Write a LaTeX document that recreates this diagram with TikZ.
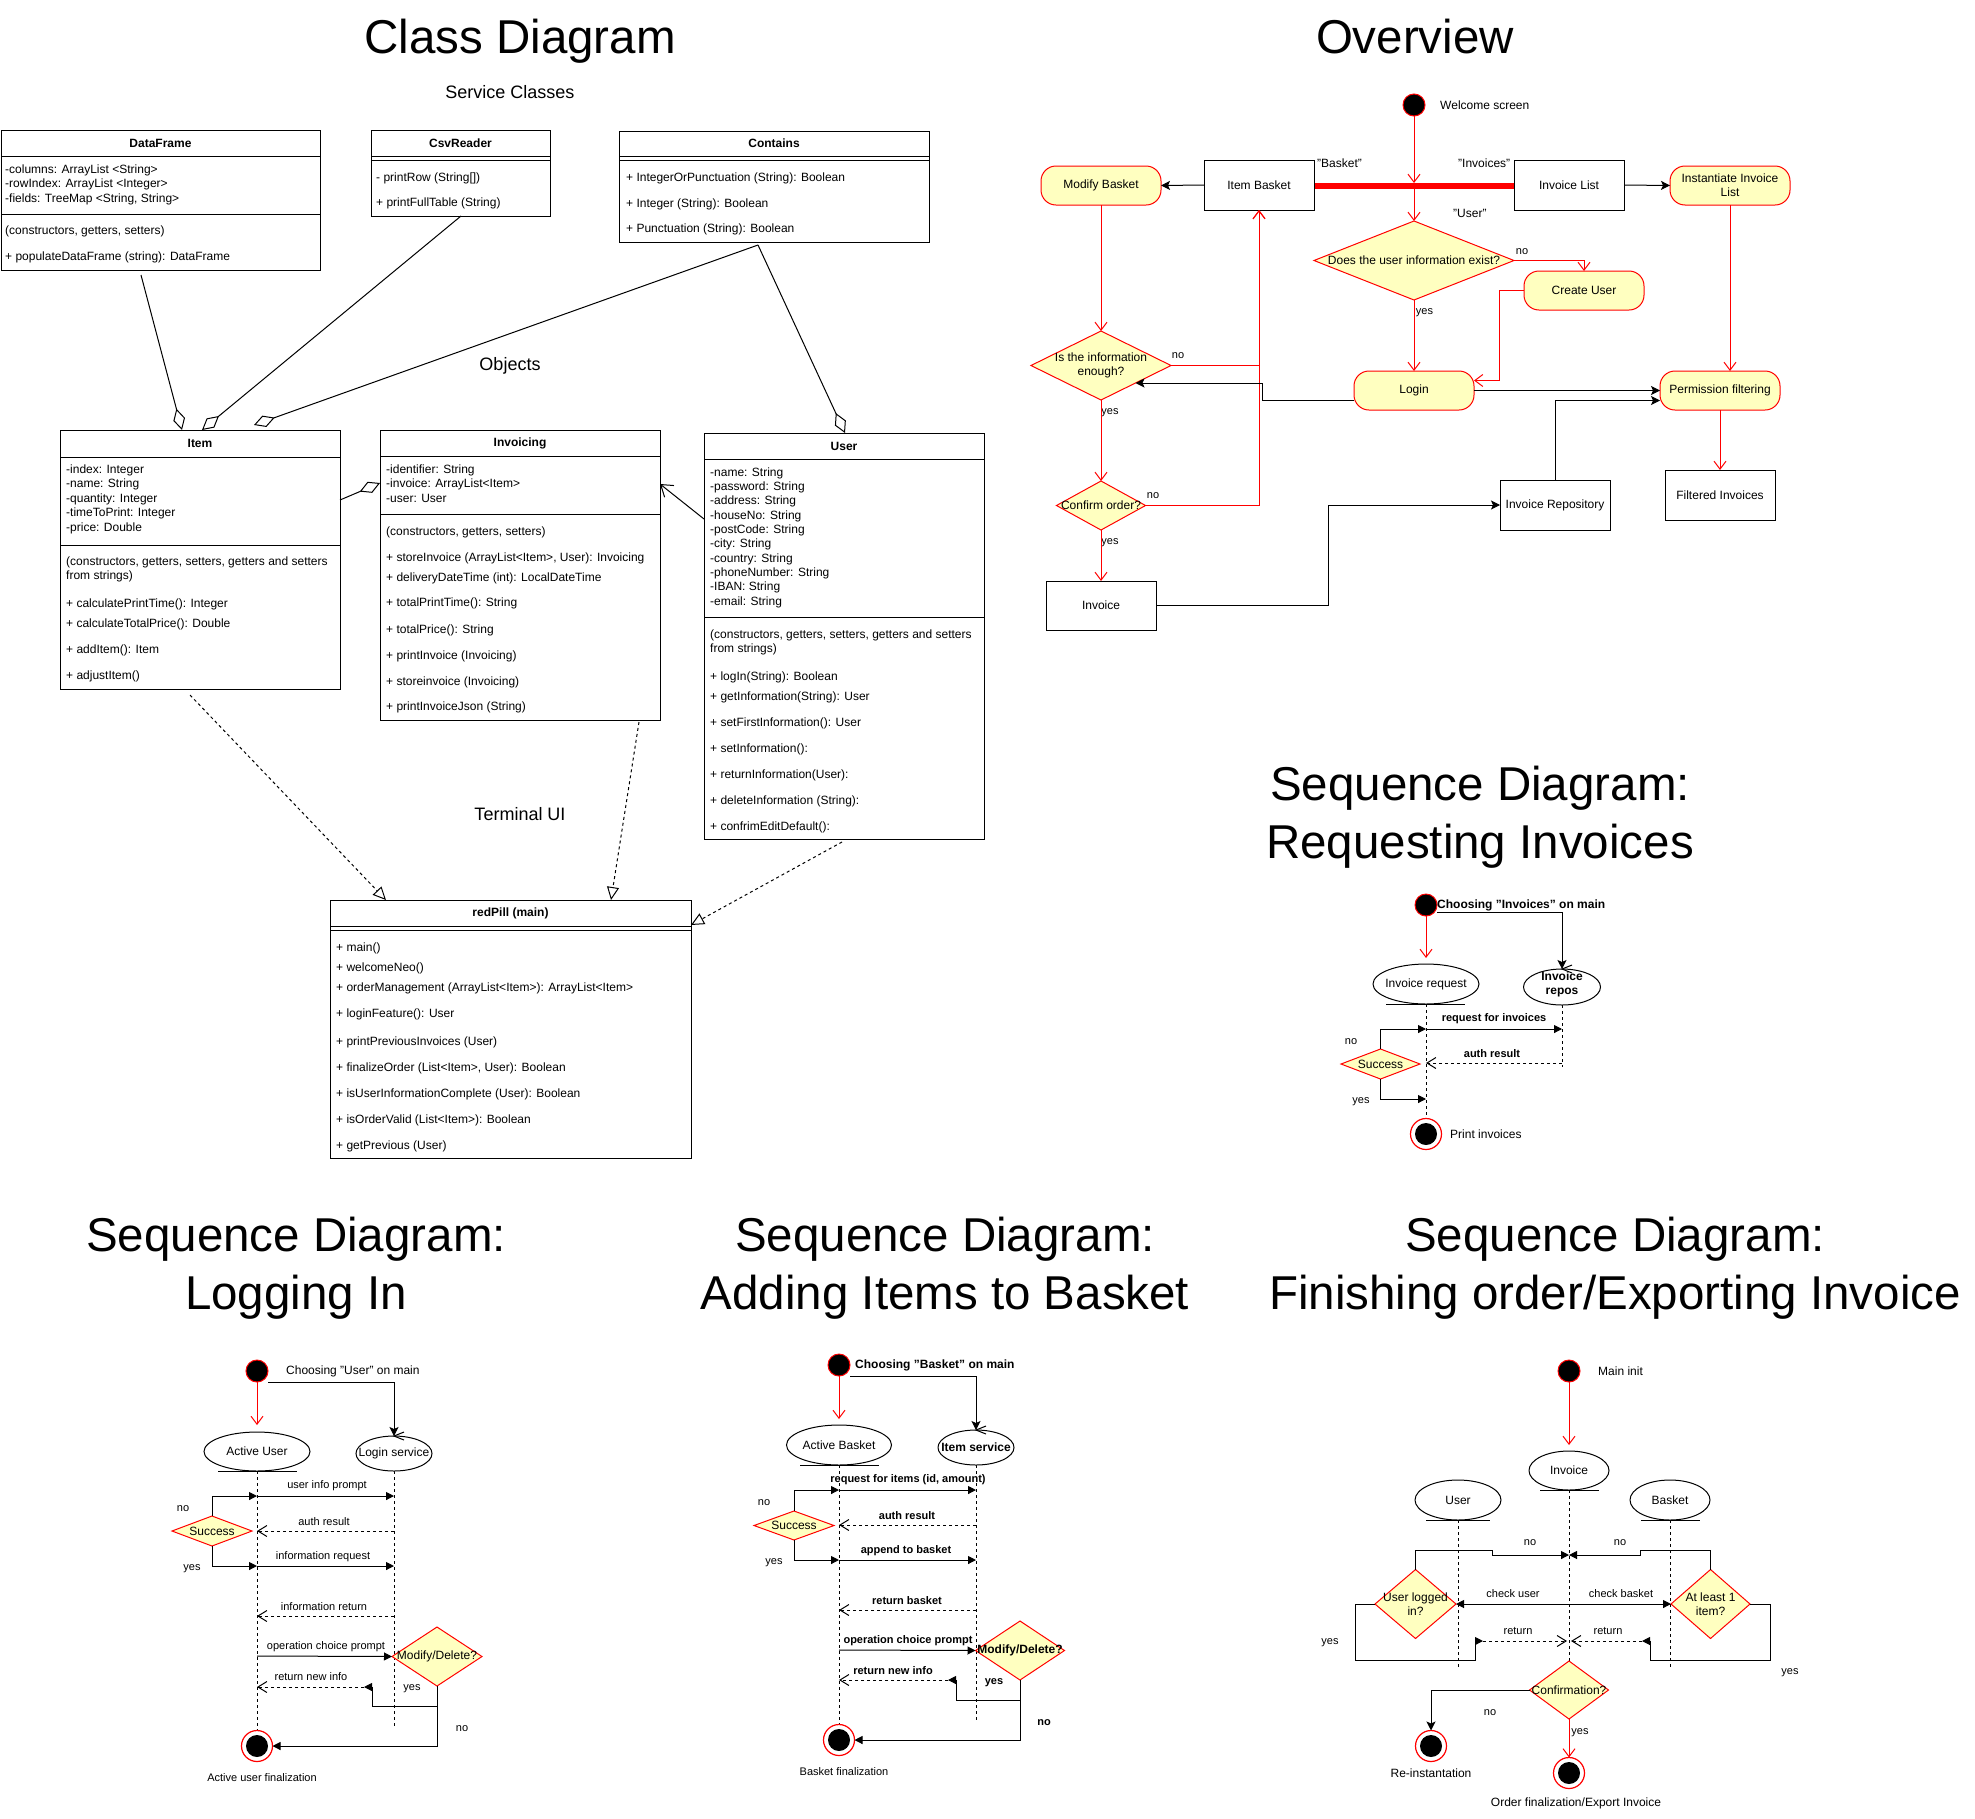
\documentclass[tikz,border=0pt]{standalone}
\usepackage{fontspec}
\setmainfont{Liberation Sans}
\usetikzlibrary{arrows.meta,shapes.geometric}
\definecolor{actfill}{HTML}{FFFFC0}
\definecolor{ared}{HTML}{FF0000}
\tikzset{
  lw/.style={line width=1pt},
  f11/.style={font=\fontsize{11}{13}\selectfont, inner sep=0pt},
  f11b/.style={font=\fontsize{11}{13}\selectfont\bfseries, inner sep=0pt},
  f12/.style={font=\fontsize{12}{14}\selectfont, inner sep=0pt},
  f12b/.style={font=\fontsize{12}{14}\selectfont\bfseries, inner sep=0pt},
  f18/.style={font=\fontsize{18}{21}\selectfont, inner sep=0pt},
  ttl/.style={font=\fontsize{47.5}{57}\selectfont, anchor=base, inner sep=0pt},
  cls/.style={draw, line width=1pt, anchor=north west, inner sep=0pt, outer sep=0pt, fill=white},
  mem/.style={f12, anchor=west, text height=9pt, text depth=3pt},
  rbox/.style={draw, line width=1pt, inner sep=0pt, outer sep=0pt, fill=white, f12},
  act/.style={draw=ared, fill=actfill, rounded corners=15pt, line width=1pt, inner sep=0pt, outer sep=0pt, f12, align=center},
  dec/.style={diamond, draw=ared, fill=actfill, line width=1pt, inner sep=0pt, outer sep=0pt},
  ell/.style={ellipse, draw, line width=1pt, fill=white, inner sep=0pt, outer sep=0pt},
  startc/.style={circle, fill=black, draw=ared, line width=1pt, minimum size=22pt, inner sep=0pt, outer sep=0pt},
  endo/.style={circle, draw=ared, fill=white, line width=1.2pt, minimum size=31pt, inner sep=0pt, outer sep=0pt},
  endi/.style={circle, fill=black, minimum size=22pt, inner sep=0pt},
  ovr/.style={draw=ared, line width=1pt, -{Straight Barb[length=8pt,width=12pt]}},
  blk/.style={draw=black, line width=1pt, -{Stealth[length=9pt,width=9pt,inset=2pt]}},
  msg/.style={draw=black, line width=1pt, -{Triangle[length=8pt,width=8pt]}},
  retn/.style={draw=black, line width=1pt, dash pattern=on 3pt off 3pt, -{Straight Barb[length=9pt,width=11pt]}},
  life/.style={draw=black, line width=1pt, dash pattern=on 3pt off 3pt},
  agg/.style={line width=1pt, -{Diamond[open,length=22pt,width=12pt]}},
  real/.style={line width=1pt, dash pattern=on 3pt off 3pt, -{Triangle[open,length=13pt,width=12pt]}},
  assoc/.style={line width=1pt, -{Straight Barb[length=11pt,width=15pt]}},
}
\begin{document}
\begin{tikzpicture}[x=1pt,y=-1pt]
\fill[white] (0,0) rectangle (1975,1818);
\useasboundingbox (0,0) rectangle (1975,1818);

% ================= CLASS DIAGRAM =================
\node[ttl] (tcls) at (520,53) {Class Diagram};
\node[f18, anchor=base] (tsvc) at (510,98) {Service Classes};
\node[f18, anchor=base] (tobj) at (510,370) {Objects};
\node[f18, anchor=base] (tterm) at (520,820) {Terminal UI};

% DataFrame
\node[cls, minimum width=319pt, minimum height=140pt] (df) at (1,130) {};
\draw[lw] (1,156) -- (320,156);
\draw[lw] (1,214) -- (320,214);
\node[f12b] (dfh) at (160.5,143) {DataFrame};
\node[mem] (dfa1) at (5,170) {-columns: ArrayList <String>};
\node[mem] (dfa2) at (5,184.5) {-rowIndex: ArrayList <Integer>};
\node[mem] (dfa3) at (5,199) {-fields: TreeMap <String, String>};
\node[mem] (dfm1) at (5,231) {(constructors, getters, setters)};
\node[mem] (dfm2) at (5,257) {+ populateDataFrame (string): DataFrame};

% CsvReader
\node[cls, minimum width=179pt, minimum height=86pt] (csv) at (371,130) {};
\draw[lw] (371,156) -- (550,156);
\draw[lw] (371,160) -- (550,160);
\node[f12b] (csvh) at (460.5,143) {CsvReader};
\node[mem] (csvm1) at (376,178) {- printRow (String[])};
\node[mem] (csvm2) at (376,203) {+ printFullTable (String)};

% Contains
\node[cls, minimum width=310pt, minimum height=111pt] (con) at (619,131) {};
\draw[lw] (619,156) -- (929,156);
\draw[lw] (619,160) -- (929,160);
\node[f12b] (conh) at (774,143.5) {Contains};
\node[mem] (conm1) at (626,178) {+ IntegerOrPunctuation (String): Boolean};
\node[mem] (conm2) at (626,204) {+ Integer (String): Boolean};
\node[mem] (conm3) at (626,229) {+ Punctuation (String): Boolean};

% Item
\node[cls, minimum width=280pt, minimum height=259pt] (item) at (60,430) {};
\draw[lw] (60,457) -- (340,457);
\draw[lw] (60,545) -- (340,545);
\node[f12b] (itemh) at (200,443.5) {Item};
\node[mem] (ita1) at (66,470) {-index: Integer};
\node[mem] (ita2) at (66,484.5) {-name: String};
\node[mem] (ita3) at (66,499) {-quantity: Integer};
\node[mem] (ita4) at (66,513.5) {-timeToPrint: Integer};
\node[mem] (ita5) at (66,528) {-price: Double};
\node[mem] (itm1) at (66,562) {(constructors, getters, setters, getters and setters};
\node[mem] (itm2) at (66,576) {from strings)};
\node[mem] (itm3) at (66,604) {+ calculatePrintTime(): Integer};
\node[mem] (itm4) at (66,624) {+ calculateTotalPrice(): Double};
\node[mem] (itm5) at (66,650) {+ addItem(): Item};
\node[mem] (itm6) at (66,676) {+ adjustItem()};

% Invoicing
\node[cls, minimum width=280pt, minimum height=290pt] (inv) at (380,430) {};
\draw[lw] (380,456) -- (660,456);
\draw[lw] (380,514) -- (660,514);
\node[f12b] (invh) at (520,443) {Invoicing};
\node[mem] (iva1) at (386,470) {-identifier: String};
\node[mem] (iva2) at (386,484.5) {-invoice: ArrayList<Item>};
\node[mem] (iva3) at (386,499) {-user: User};
\node[mem] (ivm1) at (386,532) {(constructors, getters, setters)};
\node[mem] (ivm2) at (386,558) {+ storeInvoice (ArrayList<Item>, User): Invoicing};
\node[mem] (ivm3) at (386,578) {+ deliveryDateTime (int): LocalDateTime};
\node[mem] (ivm4) at (386,603) {+ totalPrintTime(): String};
\node[mem] (ivm5) at (386,630) {+ totalPrice(): String};
\node[mem] (ivm6) at (386,656) {+ printInvoice (Invoicing)};
\node[mem] (ivm7) at (386,682) {+ storeinvoice (Invoicing)};
\node[mem] (ivm8) at (386,707) {+ printInvoiceJson (String)};

% User
\node[cls, minimum width=280pt, minimum height=406pt] (usr) at (704,433) {};
\draw[lw] (704,459) -- (984,459);
\draw[lw] (704,617) -- (984,617);
\node[f12b] (usrh) at (844,446) {User};
\node[mem] (ua1) at (710,473) {-name: String};
\node[mem] (ua2) at (710,487.3) {-password: String};
\node[mem] (ua3) at (710,501.6) {-address: String};
\node[mem] (ua4) at (710,516) {-houseNo: String};
\node[mem] (ua5) at (710,530.3) {-postCode: String};
\node[mem] (ua6) at (710,544.6) {-city: String};
\node[mem] (ua7) at (710,559) {-country: String};
\node[mem] (ua8) at (710,573.3) {-phoneNumber: String};
\node[mem] (ua9) at (710,587.6) {-IBAN: String};
\node[mem] (ua10) at (710,602) {-email: String};
\node[mem] (um1) at (710,635) {(constructors, getters, setters, getters and setters};
\node[mem] (um2) at (710,649) {from strings)};
\node[mem] (um3) at (710,677) {+ logIn(String): Boolean};
\node[mem] (um4) at (710,697) {+ getInformation(String): User};
\node[mem] (um5) at (710,723) {+ setFirstInformation(): User};
\node[mem] (um6) at (710,749) {+ setInformation():};
\node[mem] (um7) at (710,775) {+ returnInformation(User):};
\node[mem] (um8) at (710,801) {+ deleteInformation (String):};
\node[mem] (um9) at (710,827) {+ confrimEditDefault():};

% redPill
\node[cls, minimum width=361pt, minimum height=258pt] (rp) at (330,900) {};
\draw[lw] (330,926) -- (691,926);
\draw[lw] (330,930) -- (691,930);
\node[f12b] (rph) at (510.5,913) {redPill (main)};
\node[mem] (rpm1) at (336,948) {+ main()};
\node[mem] (rpm2) at (336,968) {+ welcomeNeo()};
\node[mem] (rpm3) at (336,988) {+ orderManagement (ArrayList<Item>): ArrayList<Item>};
\node[mem] (rpm4) at (336,1014) {+ loginFeature(): User};
\node[mem] (rpm5) at (336,1042) {+ printPreviousInvoices (User)};
\node[mem] (rpm6) at (336,1068) {+ finalizeOrder (List<Item>, User): Boolean};
\node[mem] (rpm7) at (336,1094) {+ isUserInformationComplete (User): Boolean};
\node[mem] (rpm8) at (336,1120) {+ isOrderValid (List<Item>): Boolean};
\node[mem] (rpm9) at (336,1146) {+ getPrevious (User)};

% class connectors
\draw[agg] ([xshift=140pt,yshift=-5pt]df.south west) -- ([xshift=122pt]item.north west);
\draw[agg] ([xshift=90pt]csv.south west) -- ([xshift=142pt]item.north west);
\draw[agg] ([xshift=139pt,yshift=-3pt]con.south west) -- ([xshift=194pt,yshift=5pt]item.north west);
\draw[agg] ([xshift=139pt,yshift=-3pt]con.south west) -- ([xshift=141pt]usr.north west);
\draw[agg] ([yshift=-70pt]item.north east) -- ([yshift=-53pt]inv.north west);
\draw[assoc] ([yshift=-86pt]usr.north west) -- ([yshift=-54pt]inv.north east);
\draw[real] ([xshift=130pt,yshift=-6pt]item.south west) -- ([xshift=56pt]rp.north west);
\draw[real] ([xshift=259pt,yshift=-2pt]inv.south west) -- ([xshift=281pt]rp.north west);
\draw[real] ([xshift=138pt,yshift=-3pt]usr.south west) -- ([yshift=-25pt]rp.north east);

% ================= OVERVIEW =================
\node[ttl] (tov) at (1415,53) {Overview};
\node[draw=none, fill=ared, minimum width=200pt, minimum height=6pt, inner sep=0pt, outer sep=0pt] (bar) at (1414,186) {};
\node[startc] (ost) at (1414,105) {};
\node[f12, anchor=west] (owel) at (1440,105) {Welcome screen};
\node[rbox, minimum width=110pt, minimum height=50pt] (oib) at (1259,185) {Item Basket};
\node[act, minimum width=120pt, minimum height=39pt] (omb) at (1101,185.5) {Modify Basket};
\node[rbox, minimum width=110pt, minimum height=50pt] (oil) at (1569,185) {Invoice List};
\node[act, minimum width=120pt, minimum height=39pt] (oinst) at (1730,185.5) {Instantiate Invoice\\List};
\node[dec, minimum width=200pt, minimum height=79pt] (od1) at (1414,260.5) {};
\node[f12] (od1t) at (1414,260.5) {Does the user information exist?};
\node[act, minimum width=120pt, minimum height=39pt] (ocu) at (1584,290.5) {Create User};
\node[act, minimum width=120pt, minimum height=39pt] (ologin) at (1414,390.5) {Login};
\node[act, minimum width=120pt, minimum height=39pt] (operm) at (1720,390.5) {Permission filtering};
\node[dec, minimum width=140pt, minimum height=69pt] (oiie) at (1101,365.5) {};
\node[f12, align=center] (oiiet) at (1101,365.5) {Is the information\\enough?};
\node[dec, minimum width=89pt, minimum height=49pt] (oco) at (1101,505.5) {};
\node[f12] (ocot) at (1101,505.5) {Confirm order?};
\node[rbox, minimum width=110pt, minimum height=49pt] (oinv) at (1101,605.5) {Invoice};
\node[rbox, minimum width=110pt, minimum height=50pt] (orep) at (1555,505) {Invoice Repository};
\node[rbox, minimum width=110pt, minimum height=50pt] (ofilt) at (1720,495) {Filtered Invoices};

\node[f12, anchor=west] (oqb) at (1317,163) {"Basket"};
\node[f12, anchor=west] (oqi) at (1458,163) {"Invoices"};
\node[f12, anchor=west] (oqu) at (1453,213) {"User"};
\node[f11] (ono1) at (1522,252) {no};
\node[f11] (oyes1) at (1424.5,313) {yes};
\node[f11] (ono2) at (1178,356) {no};
\node[f11] (oyes2) at (1110,413) {yes};
\node[f11] (ono3) at (1153,496) {no};
\node[f11] (oyes3) at (1110,543) {yes};

\draw[ovr] (ost.south) -- (bar.north);
\draw[ovr] (bar.south) -- (od1.north);
\draw[ovr] (od1.south) -- (ologin.north);
\draw[ovr] (od1.east) -| (ocu.north);
\draw[ovr] (ocu.west) -- ++(-25,0) |- ([yshift=10pt]ologin.east);
\draw[blk] (oib.west) -- (omb.east);
\draw[ovr] (omb.south) -- (oiie.north);
\draw[ovr] (oiie.east) -| (oib.south);
\draw[ovr] (oiie.south) -- (oco.north);
\draw[ovr] (oco.east) -| (oib.south);
\draw[ovr] (oco.south) -- (oinv.north);
\draw[blk] ([yshift=-10pt]ologin.west) -- (1262,400.5) |- ([xshift=34.5pt,yshift=-17.5pt]oiie.center);
\draw[blk] (ologin.east) -- (operm.west);
\draw[blk] (oinv.east) -- (1328,605.5) |- (orep.west);
\draw[blk] (orep.north) |- ([yshift=-10pt]operm.west);
\draw[blk] (oil.east) -- (oinst.west);
\draw[ovr] (oinst.south) -- (oinst.south |- operm.north);
\draw[ovr] (operm.south) -- (ofilt.north);

% ================= SEQ: REQUESTING INVOICES =================
\node[ttl] (trq1) at (1480,800) {Sequence Diagram:};
\node[ttl] (trq2) at (1480,858) {Requesting Invoices};
\node[startc] (rs) at (1426,905) {};
\node[f12b, anchor=west] (rst) at (1437,905) {Choosing "Invoices" on main};
\draw[life] (1426,1004) -- (1426,1118);
\draw[life] (1562,1005) -- (1562,1067);
\node[ell, minimum width=106pt, minimum height=40pt] (rireq) at (1426,984) {};
\node[f12] (rireqt) at (1426,984) {Invoice request};
\draw[lw] (1386,1004) -- (1465,1004);
\node[ell, minimum width=77pt, minimum height=36pt] (rirep) at (1562,987) {};
\node[f12b, align=center] (rirept) at (1562,984.5) {Invoice\\repos};
\draw[lw] ([xshift=10pt,yshift=4pt]rirep.north) -- (rirep.north) -- ([xshift=10pt,yshift=-4pt]rirep.north);
\draw[blk] ([yshift=-7pt]rs.east) -| (rirep.north);
\draw[ovr] (rs.south) -- ([yshift=6pt]rireq.north);
\draw[msg] (rireq.south |- 0,1029) -- (rirep.south |- 0,1029);
\node[f11b] (rm1) at (1494,1019) {request for invoices};
\draw[retn] (rirep.south |- 0,1063) -- (rireq.south |- 0,1063);
\node[f11b] (rm2) at (1492,1054) {auth result};
\node[dec, minimum width=79pt, minimum height=30pt] (rsu) at (1380.5,1064) {};
\node[f12] (rsut) at (1380.5,1064) {Success};
\draw[msg] (rsu.north) |- (rireq.south |- 0,1029);
\draw[msg] (rsu.south) |- (rireq.south |- 0,1099);
\node[f11] (rno) at (1351,1042) {no};
\node[f11] (ryes) at (1361,1102) {yes};
\node[endo] (re) at (1426,1134) {};
\node[endi] (rei) at (1426,1134) {};
\node[f12, anchor=west] (rpt) at (1450,1134) {Print invoices};

% ================= SEQ: LOGGING IN =================
\node[ttl] (tli1) at (296,1251) {Sequence Diagram:};
\node[ttl] (tli2) at (296,1309) {Logging In};
\node[startc] (ls) at (257,1371) {};
\node[f12, anchor=west] (lst) at (286,1371) {Choosing "User" on main};
\draw[life] (257,1471) -- (257,1730);
\draw[life] (394,1471) -- (394,1727);
\node[ell, minimum width=106pt, minimum height=39pt] (lau) at (257,1451.5) {};
\node[f12] (laut) at (257,1451.5) {Active User};
\draw[lw] (218,1471) -- (297,1471);
\node[ell, minimum width=76pt, minimum height=35pt] (lls) at (394,1453.5) {};
\node[f12] (llst) at (394,1453.5) {Login service};
\draw[lw] ([xshift=10pt,yshift=4pt]lls.north) -- (lls.north) -- ([xshift=10pt,yshift=-4pt]lls.north);
\draw[blk] ([yshift=-11pt]ls.east) -| (lls.north);
\draw[ovr] (ls.south) -- ([yshift=7pt]lau.north);
\draw[msg] (lau.south |- 0,1496) -- (lls.south |- 0,1496);
\node[f11] (lm1) at (327,1486) {user info prompt};
\node[dec, minimum width=80pt, minimum height=30pt] (lsu) at (212,1531) {};
\node[f12] (lsut) at (212,1531) {Success};
\draw[msg] (lsu.north) |- (lau.south |- 0,1496);
\node[f11] (lno) at (183,1509) {no};
\draw[retn] (lls.south |- 0,1531) -- (lau.south |- 0,1531);
\node[f11] (lm2) at (324,1522) {auth result};
\draw[msg] (lau.south |- 0,1566) -- (lls.south |- 0,1566);
\node[f11] (lm3) at (323,1557) {information request};
\draw[msg] (lsu.south) |- (lau.south |- 0,1566);
\node[f11] (lyes) at (192,1569) {yes};
\draw[retn] (lls.south |- 0,1616) -- (lau.south |- 0,1616);
\node[f11] (lm4) at (324,1607) {information return};
\node[dec, minimum width=90pt, minimum height=59pt] (lmd) at (437,1656.5) {};
\node[f12] (lmdt) at (437,1656.5) {Modify/Delete?};
\draw[msg] (lau.south |- 0,1656) -- (lmd.west);
\node[f11] (lm5) at (326,1647) {operation choice prompt};
\coordinate (lrn) at (364,1687);
\draw[retn] (lrn) -- (lau.south |- 0,1687);
\node[f11] (lm6) at (311,1677) {return new info};
\draw[msg] (lmd.south) |- (372,1706) |- (lrn);
\node[f11] (lyes2) at (412,1689) {yes};
\node[endo] (le) at (257,1746) {};
\node[endi] (lei) at (257,1746) {};
\draw[msg] (437,1706) |- (le.east);
\node[f11] (lno2) at (462,1729) {no};
\node[f11] (lfin) at (262,1778) {Active user finalization};

% ================= SEQ: ADDING ITEMS =================
\node[ttl] (tad1) at (945,1251) {Sequence Diagram:};
\node[ttl] (tad2) at (945,1309) {Adding Items to Basket};
\node[startc] (as) at (839,1365) {};
\node[f12b, anchor=west] (ast) at (855,1365) {Choosing "Basket" on main};
\draw[life] (839,1465) -- (839,1725);
\draw[life] (976,1465) -- (976,1722);
\node[ell, minimum width=105pt, minimum height=40pt] (aab) at (839,1445) {};
\node[f12] (aabt) at (839,1445) {Active Basket};
\draw[lw] (800,1465) -- (879,1465);
\node[ell, minimum width=76pt, minimum height=35pt] (ais) at (976,1447.5) {};
\node[f12b] (aist) at (976,1447.5) {Item service};
\draw[lw] ([xshift=10pt,yshift=4pt]ais.north) -- (ais.north) -- ([xshift=10pt,yshift=-4pt]ais.north);
\draw[blk] ([yshift=-11pt]as.east) -| (ais.north);
\draw[ovr] (as.south) -- ([yshift=6pt]aab.north);
\draw[msg] (aab.south |- 0,1490) -- (ais.south |- 0,1490);
\node[f11b] (am1) at (908,1480) {request for items (id, amount)};
\node[dec, minimum width=80pt, minimum height=29pt] (asu) at (794,1525.5) {};
\node[f12] (asut) at (794,1525.5) {Success};
\draw[msg] (asu.north) |- (aab.south |- 0,1490);
\node[f11] (ano) at (764,1503) {no};
\draw[retn] (ais.south |- 0,1525) -- (aab.south |- 0,1525);
\node[f11b] (am2) at (907,1516) {auth result};
\draw[msg] (aab.south |- 0,1560) -- (ais.south |- 0,1560);
\node[f11b] (am3) at (906,1551) {append to basket};
\draw[msg] (asu.south) |- (aab.south |- 0,1560);
\node[f11] (ayes) at (774,1563) {yes};
\draw[retn] (ais.south |- 0,1610) -- (aab.south |- 0,1610);
\node[f11b] (am4) at (907,1601) {return basket};
\node[dec, minimum width=89pt, minimum height=59pt] (amd) at (1020,1650.5) {};
\node[f12b] (amdt) at (1020,1650.5) {Modify/Delete?};
\draw[msg] (aab.south |- 0,1650) -- (amd.west);
\node[f11b] (am5) at (908,1641) {operation choice prompt};
\coordinate (arn) at (948,1680);
\draw[retn] (arn) -- (aab.south |- 0,1680);
\node[f11b] (am6) at (893,1671) {return new info};
\draw[msg] (amd.south) |- (956,1700) |- (arn);
\node[f11b] (ayes2) at (994,1683) {yes};
\node[endo] (ae) at (839,1740) {};
\node[endi] (aei) at (839,1740) {};
\draw[msg] (1020,1700) |- (ae.east);
\node[f11b] (ano2) at (1044,1723) {no};
\node[f11] (afin) at (844,1772) {Basket finalization};

% ================= SEQ: FINISHING ORDER =================
\node[ttl] (tfi1) at (1615,1251) {Sequence Diagram:};
\node[ttl] (tfi2) at (1615,1309) {Finishing order/Exporting Invoice};
\node[startc] (fs) at (1569,1371) {};
\node[f12, anchor=west] (fst) at (1598,1371) {Main init};
\draw[life] (1569,1490) -- (1569,1661);
\draw[life] (1458,1520) -- (1458,1667);
\draw[life] (1670,1520) -- (1670,1667);
\node[ell, minimum width=80pt, minimum height=39pt] (finv) at (1569,1470.5) {};
\node[f12] (finvt) at (1569,1470.5) {Invoice};
\draw[lw] (1540,1490) -- (1599,1490);
\node[ell, minimum width=86pt, minimum height=40pt] (fusr) at (1458,1500) {};
\node[f12] (fusrt) at (1458,1500) {User};
\draw[lw] (1426,1520) -- (1490,1520);
\node[ell, minimum width=80pt, minimum height=40pt] (fbas) at (1670,1500) {};
\node[f12] (fbast) at (1670,1500) {Basket};
\draw[lw] (1641,1520) -- (1700,1520);
\draw[ovr] (fs.south) -- ([yshift=6pt]finv.north);
\node[dec, minimum width=81pt, minimum height=69pt] (ful) at (1415.5,1604) {};
\node[f12, align=center] (fult) at (1415.5,1604) {User logged\\in?};
\node[dec, minimum width=79pt, minimum height=69pt] (fal) at (1710.5,1604) {};
\node[f12, align=center] (falt) at (1710.5,1604) {At least 1\\item?};
\draw[msg] (ful.north) |- (1492,1550) |- (finv.south |- 0,1555);
\draw[msg] (fal.north) |- (1640,1550) |- (finv.south |- 0,1555);
\node[f11] (fno1) at (1530,1543) {no};
\node[f11] (fno2) at (1620,1543) {no};
\draw[msg] (finv.south |- 0,1604) -- (ful.east);
\draw[msg] (finv.south |- 0,1604) -- (fal.west);
\node[f11] (fcu) at (1513,1594) {check user};
\node[f11] (fcb) at (1621,1594) {check basket};
\coordinate (frl) at (1483,1641);
\coordinate (frr) at (1642,1641);
\draw[msg] (ful.west) -- (1355,1604) |- (1475,1660) |- (frl);
\draw[msg] (fal.east) -- (1770,1604) |- (1650,1660) |- (frr);
\draw[retn] (frl) -- ([xshift=-2pt]finv.south |- 0,1641);
\draw[retn] (frr) -- ([xshift=2pt]finv.south |- 0,1641);
\node[f11] (fr1) at (1518,1631) {return};
\node[f11] (fr2) at (1608,1631) {return};
\node[f11] (fy1) at (1330,1643) {yes};
\node[f11] (fy2) at (1790,1673) {yes};
\node[dec, minimum width=79pt, minimum height=58pt] (fconf) at (1569,1690) {};
\node[f12] (fconft) at (1569,1690) {Confirmation?};
\node[endo] (fre) at (1431,1746) {};
\node[endi] (frei) at (1431,1746) {};
\draw[blk] (fconf.west) -| (fre.north);
\node[f11] (fno3) at (1490,1713) {no};
\node[f12] (fret) at (1431,1773) {Re-instantation};
\node[endo] (fend) at (1569,1773) {};
\node[endi] (fendi) at (1569,1773) {};
\draw[ovr] (fconf.south) -- (fend.north);
\node[f11] (fy3) at (1580,1733) {yes};
\node[f12] (fendt) at (1576,1803) {Order finalization/Export Invoice};
\end{tikzpicture}
\end{document}
